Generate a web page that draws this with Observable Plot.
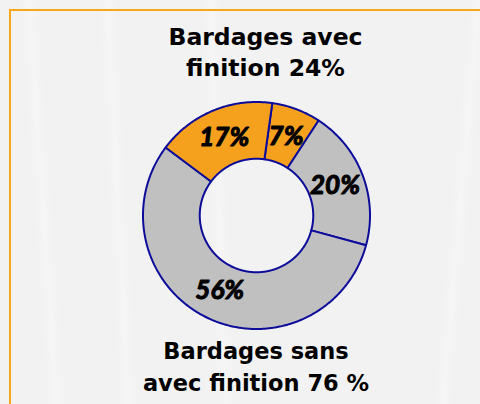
<!DOCTYPE html>
<html><head><meta charset="utf-8">
<script src="https://cdn.jsdelivr.net/npm/d3@7"></script>
<script src="https://cdn.jsdelivr.net/npm/@observablehq/plot@0.6"></script>
<style>
html,body{margin:0;padding:0;background:#f2f2f2;}
#wrap{position:relative;width:480px;height:404px;overflow:hidden;background:#f2f2f2;}
.streak{position:absolute;width:8px;height:520px;background:rgba(255,255,255,0.28);filter:blur(3px);top:-40px;}
#chart{position:absolute;left:0;top:0;}
#frameTop{position:absolute;left:9px;top:9px;width:480px;height:2px;background:#f7a51c;z-index:5;}
#frameLeft{position:absolute;left:9px;top:9px;width:2px;height:400px;background:#f7a51c;z-index:5;}
.title{position:absolute;font-family:"DejaVu Sans",sans-serif;font-weight:bold;color:#000;text-align:center;white-space:nowrap;}
</style></head>
<body>
<div id="wrap">
  <div class="streak" style="left:40px;transform:rotate(-4deg)"></div>
  <div class="streak" style="left:115px;transform:rotate(-3deg)"></div>
  <div class="streak" style="left:215px;transform:rotate(-2deg)"></div>
  <div class="streak" style="left:455px;transform:rotate(5deg)"></div>
  <div id="chart"></div>
  <div id="frameTop"></div>
  <div id="frameLeft"></div>
  <div id="t1" class="title"></div>
  <div id="t2" class="title"></div>
</div>
<script>
// Data
const categories = ["Avec finition (7%)", "Sans finition (20%)", "Sans finition (56%)", "Avec finition (17%)"];
const groups = ["avec", "sans", "sans", "avec"];
const values = [7, 20, 56, 17];
const labels = ["7%", "20%", "56%", "17%"];
const topTitle = ["Bardages avec", "finition 24%"];
const bottomTitle = ["Bardages sans", "avec finition 76 %"];

const W = 480, H = 404;
const cx = 256, cy = 215, Rpx = 113.5;
const inner = 0.5;
const start = 8 * Math.PI / 180;
const total = d3.sum(values);

const pts = [];
const labs = [];
let a0 = start;
values.forEach((v, i) => {
  const a1 = a0 + v / total * 2 * Math.PI;
  const n = Math.max(4, Math.ceil((a1 - a0) / 0.01));
  for (let k = 0; k <= n; k++) {
    const a = a0 + (a1 - a0) * k / n;
    pts.push({slice: categories[i], group: groups[i], x: Math.sin(a), y: Math.cos(a)});
  }
  for (let k = n; k >= 0; k--) {
    const a = a0 + (a1 - a0) * k / n;
    pts.push({slice: categories[i], group: groups[i], x: inner * Math.sin(a), y: inner * Math.cos(a)});
  }
  pts.push({slice: categories[i], group: groups[i], x: Math.sin(a0), y: Math.cos(a0)});
  const am = (a0 + a1) / 2;
  const rl = 0.74;
  labs.push({text: labels[i], x: rl * Math.sin(am), y: rl * Math.cos(am)});
  a0 = a1;
});

const chart = Plot.plot({
  width: W, height: H,
  margin: 0,
  style: {background: "transparent", overflow: "visible"},
  x: {domain: [-cx / Rpx, (W - cx) / Rpx], range: [0, W], axis: null},
  y: {domain: [-(H - cy) / Rpx, cy / Rpx], range: [H, 0], axis: null},
  color: {domain: ["avec", "sans"], range: ["#f6a11e", "#c0c0c0"]},
  marks: [
    Plot.line(pts, {x: "x", y: "y", z: "slice", fill: "group", stroke: "#0c0c9a", strokeWidth: 2, curve: "linear", strokeLinejoin: "round"}),
    Plot.text(labs, {x: "x", y: "y", text: "text", fill: "#000", stroke: "#000", strokeWidth: 1.1, fontSize: 26, fontWeight: "bold", fontStyle: "italic", fontFamily: "Lato, sans-serif"})
  ]
});
document.getElementById("chart").appendChild(chart);

const t1 = document.getElementById("t1");
t1.innerHTML = topTitle.join("<br>");
Object.assign(t1.style, {left: (265.5 - 150) + "px", width: "300px", top: "22px", fontSize: "23.5px", lineHeight: "31px"});
const t2 = document.getElementById("t2");
t2.innerHTML = bottomTitle.join("<br>");
Object.assign(t2.style, {left: (256 - 150) + "px", width: "300px", top: "335px", fontSize: "22.5px", lineHeight: "32px"});
</script>
</body></html>
